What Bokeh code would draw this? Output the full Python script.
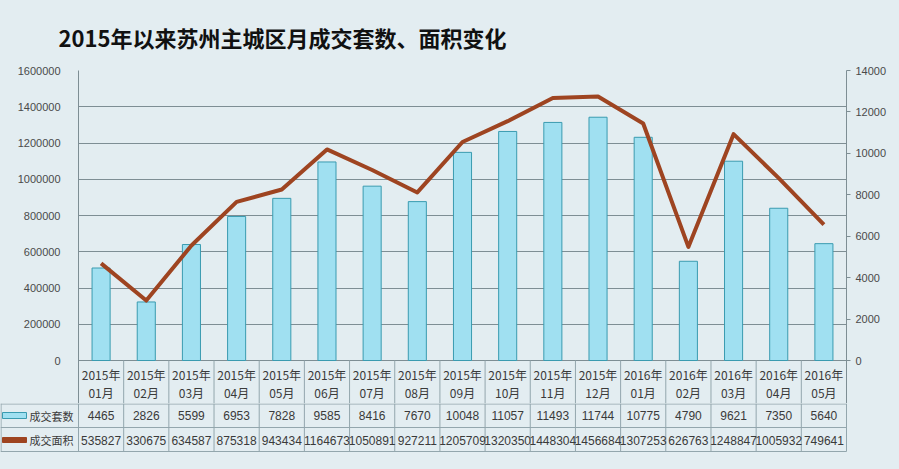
from bokeh.plotting import figure
from bokeh.models import (Range1d, LinearAxis, FixedTicker, NumeralTickFormatter,
                          Grid, ColumnDataSource)
from bokeh.layouts import column
from bokeh.embed import file_html
from bokeh.resources import INLINE
from bokeh.core.properties import value

# ---------------- data ----------------
title_text = "2015年以来苏州主城区月成交套数、面积变化"
years = ["2015年"] * 12 + ["2016年"] * 5
months = ["01月", "02月", "03月", "04月", "05月", "06月", "07月", "08月", "09月",
          "10月", "11月", "12月", "01月", "02月", "03月", "04月", "05月"]
counts = [4465, 2826, 5599, 6953, 7828, 9585, 8416, 7670, 10048, 11057, 11493,
          11744, 10775, 4790, 9621, 7350, 5640]
areas = [535827, 330675, 634587, 875318, 943434, 1164673, 1050891, 927211,
         1205709, 1320350, 1448304, 1456684, 1307253, 626763, 1248847,
         1005932, 749641]
series_names = ["成交套数", "成交面积"]
left_ticks = [0, 200000, 400000, 600000, 800000, 1000000, 1200000, 1400000, 1600000]
right_ticks = [0, 2000, 4000, 6000, 8000, 10000, 12000, 14000]

# ---------------- styles ----------------
BG = "#e3edf1"
BAR_FILL = "#a0e0f1"
BAR_LINE = "#3a9bb0"
LINE_COL = "#9e4421"
GRID_COL = "#7e8e94"
TABLE_COL = "#93a6ad"
TXT = "#3a3a3a"
CJK = "Noto Sans CJK SC"
NUMF = "Liberation Sans"

n = len(counts)
idx = list(range(n))
W = 899
LB, RB = 78, 53          # frame from x=78 to x=846
TOP = 70                 # frame top
ZERO = 360               # pixel row of value 0
HEAD_END = 403           # header band (year / month) ends here
EXT = HEAD_END - ZERO    # chart frame continues below zero through the header
H1 = HEAD_END
colw = (W - LB - RB) / n
plot_px = ZERO - TOP
upp = left_ticks[-1] / plot_px          # left-axis units per pixel
lstart = -EXT * upp
rstart = -right_ticks[-1] * EXT / plot_px


def band_y(py):
    """left-axis value for a pixel row below zero (header band)."""
    return -(py - ZERO) * upp


# ---------------- chart ----------------
p = figure(width=W, height=H1, x_range=Range1d(-0.5, n - 0.5),
           y_range=Range1d(lstart, left_ticks[-1]),
           x_axis_type=None, y_axis_type=None, toolbar_location=None,
           output_backend="svg", min_border_left=LB, min_border_right=RB,
           min_border_top=TOP, min_border_bottom=0,
           background_fill_color=BG, border_fill_color=BG,
           outline_line_color=None)
p.frame_align = False
p.extra_y_ranges = {"cnt": Range1d(rstart, right_ticks[-1])}

p.title.text = title_text
p.title.text_font = CJK
p.title.text_font_size = "22px"
p.title.text_font_style = "bold"
p.title.text_color = "#111111"
p.title.align = "left"
p.title.offset = -20
p.title.standoff = 36

lax = LinearAxis(ticker=FixedTicker(ticks=left_ticks),
                 formatter=NumeralTickFormatter(format="0"))
rax = LinearAxis(y_range_name="cnt", ticker=FixedTicker(ticks=right_ticks),
                 formatter=NumeralTickFormatter(format="0"))
for ax in (lax, rax):
    ax.axis_line_color = GRID_COL
    ax.major_label_text_font = NUMF
    ax.major_label_text_font_size = "11px"
    ax.major_label_text_color = "#4a4a4a"
    ax.minor_tick_line_color = None
lax.major_tick_line_color = None
lax.major_label_standoff = 12
rax.major_tick_line_color = GRID_COL
rax.major_tick_out = 4
rax.major_tick_in = 0
rax.major_label_standoff = 5
p.add_layout(lax, "left")
p.add_layout(rax, "right")

grid = Grid(dimension=1, ticker=FixedTicker(ticks=left_ticks),
            grid_line_color=GRID_COL, grid_line_width=1)
p.add_layout(grid)

# header band of the data table (column dividers + year/month labels)
vx = [k - 0.5 for k in range(n + 1)]
p.segment(x0=vx, y0=[0] * len(vx), x1=vx, y1=[lstart] * len(vx),
          line_color=TABLE_COL, line_width=1)
hsrc = ColumnDataSource(dict(x=idx, yr=years, mo=months))
p.text(x="x", y=band_y(374), text="yr", source=hsrc, text_font=value(CJK),
       text_font_size="12px", text_color=TXT, text_align="center",
       text_baseline="middle")
p.text(x="x", y=band_y(392), text="mo", source=hsrc, text_font=value(CJK),
       text_font_size="12px", text_color=TXT, text_align="center",
       text_baseline="middle")

src = ColumnDataSource(dict(x=idx, cnt=counts, area=areas))
p.vbar(x="x", top="cnt", width=0.40, source=src, y_range_name="cnt",
       fill_color=BAR_FILL, line_color=BAR_LINE, line_width=1)
p.line(x="x", y="area", source=src, line_color=LINE_COL, line_width=4,
       line_join="round")

# ---------------- data rows of the table ----------------
PAGE_H = 469
TH = PAGE_H - H1
x0 = -0.5 - LB / colw
xr_end = n - 0.5 + 3 / colw
t = figure(width=W, height=TH, x_range=Range1d(x0, xr_end),
           y_range=Range1d(PAGE_H, H1), x_axis_type=None, y_axis_type=None,
           toolbar_location=None, output_backend="svg",
           min_border_left=0, min_border_right=RB - 3, min_border_top=0,
           min_border_bottom=0, background_fill_color=BG, border_fill_color=BG,
           outline_line_color=None)
t.frame_align = False
t.xgrid.visible = False
t.ygrid.visible = False

r_cnt, r_area, r_end = H1 + 0.5, 427, 451
hy = [r_cnt, r_area, r_end]
t.segment(x0=[x0] * 3, y0=hy, x1=[n - 0.5] * 3, y1=hy,
          line_color=TABLE_COL, line_width=1)
t.segment(x0=vx, y0=[H1] * len(vx), x1=vx, y1=[r_end] * len(vx),
          line_color=TABLE_COL, line_width=1)
t.segment(x0=[x0 + 0.012], y0=[H1], x1=[x0 + 0.012], y1=[r_end],
          line_color=TABLE_COL, line_width=1)

tsrc = ColumnDataSource(dict(x=idx, c=[str(v) for v in counts],
                             a=[str(v) for v in areas]))
common = dict(text_align="center", text_baseline="middle", text_color=TXT,
              source=tsrc, text_font=value(NUMF), text_font_size="12px")
t.text(x="x", y=415, text="c", **common)
t.text(x="x", y=439.5, text="a", **common)

# legend swatches and names
sw_w = 24 / colw
sx = x0 + 2 / colw + sw_w / 2
t.rect(x=[sx], y=[415], width=sw_w, height=6,
       fill_color=BAR_FILL, line_color=BAR_LINE)
t.rect(x=[sx], y=[439.5], width=sw_w, height=5,
       fill_color=LINE_COL, line_color=LINE_COL)
t.text(x=[x0 + 29 / colw] * 2, y=[415, 439.5],
       text=series_names, text_font=value(CJK), text_font_size="11px",
       text_color=TXT, text_align="left", text_baseline="middle")

layout = column(p, t, spacing=0)
layout.styles = {"background-color": BG}

html = file_html(layout, INLINE, title="苏州主城区月成交")
html = html.replace("<body>", '<body style="background-color:%s;">' % BG, 1)
open("out.html", "w").write(html)
